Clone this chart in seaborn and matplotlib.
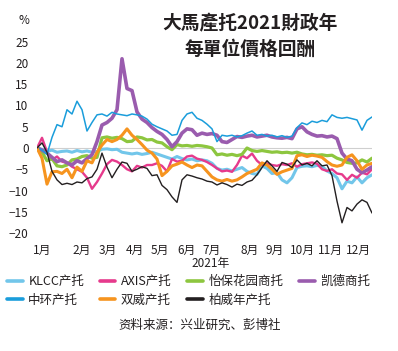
import numpy as np
import pandas as pd
import matplotlib
matplotlib.use("Agg")
import matplotlib.pyplot as plt
from matplotlib.lines import Line2D
import seaborn as sns

# ---- data (sample index along 2021, % return) ----
month_labels = ["1月", "2月", "3月", "4月", "5月", "6月", "7月", "8月", "9月", "10月", "11月", "12月"]
month_pos = [1.0, 9.0, 14.2, 19.6, 24.6, 29.8, 35.0, 42.6, 47.6, 53.0, 58.6, 64.2]
y_ticks = [25, 20, 15, 10, 5, 0, -5, -10, -15, -20]

series_names = ["KLCC产托", "AXIS产托", "怡保花园商托", "凯德商托", "中环产托", "双威产托", "柏威年产托"]

klcc = [0, -0.3, -0.8, -0.5, -1.0, -0.8, -0.7, -1.0, -0.6, -0.9, -0.7, -1.0, -0.8, -0.3, -0.2, -0.4, -0.3,
        -1.0, -1.2, -1.4, -1.2, -1.5, -1.3, -1.0, -1.4, -1.8, -2.2, -2.6, -2.0, -2.5, -2.8, -2.6, -3.0, -2.8,
        -3.0, -3.6, -4.8, -5.2, -5.0, -5.4, -5.0, -4.6, -5.5, -6.0, -6.2, -4.2, -4.8, -6.0, -5.8, -7.5, -8.2,
        -7.0, -4.6, -4.3, -4.2, -4.4, -4.1, -4.3, -5.4, -6.0, -7.0, -9.6, -7.8, -8.2, -6.8, -8.2, -7.0, -6.3]
axis = [0, 2.4, -0.9, -2.8, -2.0, -3.2, -3.5, -4.4, -5.0, -5.6, -7.0, -9.6, -8.0, -6.0, -3.8, -2.8, -3.2,
        -4.0, -5.0, -5.5, -4.2, -4.6, -4.0, -4.0, -3.6, -4.2, -5.5, -2.6, -3.2, -3.0, -2.0, -1.8, -2.5, -2.8,
        -3.3, -4.0, -4.8, -5.5, -5.3, -5.6, -4.0, -1.8, -2.4, -1.3, -3.0, -4.0, -3.6, -4.0, -4.2, -3.8, -4.0,
        -3.6, -4.4, -3.8, -3.6, -3.4, -3.7, -5.0, -5.4, -5.0, -6.0, -6.2, -7.5, -6.3, -7.0, -5.8, -6.2, -5.0]
ipoh = [0, -1.0, -3.0, -2.5, -4.2, -4.4, -4.0, -2.8, -2.6, -2.0, -1.8, -2.4, -2.2, 2.4, 2.6, 2.3, 2.5,
        2.2, 1.5, 1.6, 2.6, 2.4, 1.9, 2.0, 1.4, 1.2, 0.3, -0.4, 0.8, 0.5, 0.6, 0.4, 0.6, 0.5,
        0.3, 0.0, -1.6, -1.4, -1.7, -1.5, -1.8, -1.5, 0.0, -0.6, -0.8, -0.6, -0.8, -1.0, -0.9, -1.1, -1.0,
        -1.2, -1.0, -1.4, -1.6, -1.5, -1.7, -1.6, -1.8, -1.7, -2.4, -2.8, -3.4, -3.6, -3.5, -2.8, -3.3, -2.4]
capita = [0, -0.5, -1.2, -2.2, -3.2, -2.8, -3.5, -4.0, -3.0, -3.5, -2.5, -1.6, 1.5, 5.4, 6.0, 7.0, 9.0,
          21.0, 14.0, 13.5, 8.5, 6.8, 6.0, 4.8, 3.9, 3.2, 2.0, 0.3, 1.5, 3.5, 4.5, 4.3, 3.0, 3.5,
          3.2, 3.4, 3.0, 1.5, 1.3, 2.0, 2.7, 2.5, 2.8, 3.0, 2.6, 2.8, 3.0, 2.6, 2.4, 2.3, 2.5,
          2.2, 4.5, 5.0, 3.8, 3.2, 2.8, 2.9, 2.6, 2.8, 2.2, -1.2, -2.6, -3.0, -5.0, -5.8, -5.2, -4.4]
midvalley = [0, -0.5, -1.5, 2.5, 5.5, 5.0, 9.0, 8.0, 11.0, 9.0, 4.0, 6.0, 7.8, 8.0, 7.5, 8.4, 8.0,
             7.8, 7.6, 8.0, 7.8, 7.5, 6.8, 5.6, 5.0, 4.5, 4.0, 3.0, 3.2, 6.5, 8.0, 8.4, 7.0, 6.5,
             5.6, 4.5, 1.5, 3.0, 2.8, 3.0, 2.6, 2.9, 3.5, 4.0, 3.0, 3.2, 2.8, 3.0, 2.6, 2.9, 2.5,
             2.8, 4.8, 5.9, 5.5, 6.3, 6.0, 6.5, 6.2, 7.8, 7.2, 7.0, 7.2, 6.9, 6.6, 4.2, 6.5, 7.3]
sunway = [0, -2.4, -8.5, -5.6, -5.5, -6.0, -5.0, -7.0, -4.5, -5.5, -3.0, -3.5, -1.0, 0.7, 2.0, 1.5, 2.0,
          3.0, 4.5, 3.0, 2.0, 0.8, -0.5, -1.2, -2.6, -6.5, -5.5, -4.2, -3.8, -3.3, -4.0, -4.6, -4.0, -4.2,
          -5.5, -6.8, -7.5, -7.8, -7.4, -7.8, -7.5, -6.8, -6.0, -5.5, -5.0, -3.5, -4.0, -5.0, -6.2, -5.6, -5.2,
          -4.8, -1.8, -1.6, -2.0, -1.7, -1.9, -2.2, -3.2, -4.0, -4.3, -4.0, -2.2, -1.6, -3.0, -5.0, -4.0, -3.6]
pavilion = [0, 1.2, -1.0, -5.5, -7.5, -8.6, -8.3, -8.6, -8.0, -8.2, -7.2, -6.8, -5.0, -1.2, -4.5, -7.0, -5.0,
            -3.3, -3.6, -5.5, -5.0, -4.4, -4.8, -6.5, -6.3, -8.8, -9.8, -11.5, -12.8, -7.5, -6.3, -6.6, -7.0, -7.3,
            -7.8, -8.0, -8.7, -8.2, -8.6, -9.2, -8.5, -8.8, -8.0, -7.6, -6.3, -4.6, -3.0, -4.2, -5.5, -3.4, -3.8,
            -4.6, -2.8, -4.0, -3.6, -4.2, -3.0, -4.2, -4.0, -6.5, -12.5, -17.6, -14.0, -14.8, -13.2, -12.2, -12.8, -15.3]

colors = ["#72c6ea", "#e63a8c", "#8dc63f", "#9a5cae", "#1a9ddb", "#f6941f", "#231f20"]
widths = [2.2, 1.7, 2.3, 2.6, 1.1, 2.2, 1.0]

all_vals = [klcc, axis, ipoh, capita, midvalley, sunway, pavilion]
frames = []
for name, vals in zip(series_names, all_vals):
    frames.append(pd.DataFrame({"idx": np.arange(len(vals)), "value": vals, "series": name}))
df = pd.concat(frames, ignore_index=True)

# ---- style ----
sns.set_style("white")
plt.rcParams["font.family"] = ["Noto Sans CJK SC", "DejaVu Sans"]
plt.rcParams["axes.unicode_minus"] = True

fig = plt.figure(figsize=(3.98, 3.51), dpi=100)
ax = fig.add_axes([37 / 398, 1 - 237.25 / 351, 335 / 398, (237.25 - 37.5) / 351])

ax.axhline(0, color="#cfcfcf", lw=0.8, zorder=0)
sns.lineplot(data=df, x="idx", y="value", hue="series", hue_order=series_names,
             palette=dict(zip(series_names, colors)), legend=False, errorbar=None, ax=ax)
for ln, w in zip(ax.lines[1:], widths):
    ln.set_linewidth(w)
    ln.set_solid_joinstyle("round")

ax.set_xlim(0, 67)
ax.set_ylim(-21, 26)
ax.set_xticks(month_pos)
ax.set_xticklabels(month_labels)
ax.set_yticks(y_ticks)
ax.set_yticklabels([("\u2212" + str(-v)) if v < 0 else str(v) for v in y_ticks])
ax.tick_params(axis="both", length=0, labelsize=8.5, colors="#231f20")
ax.tick_params(axis="y", pad=6)
ax.tick_params(axis="x", pad=5)
ax.set_xlabel("")
ax.set_ylabel("")
for s in ax.spines.values():
    s.set_visible(False)

# ---- texts ----
fig.text(24 / 398, 1 - 21 / 351, "%", ha="center", va="center", fontsize=8.5, color="#231f20")
fig.text(250 / 398, 1 - 24 / 351, "大馬產托2021財政年", ha="center", va="center", fontsize=13.5,
         fontweight="bold", family=["Noto Sans CJK TC", "DejaVu Sans"], color="#231f20")
fig.text(250 / 398, 1 - 49 / 351, "每單位價格回酬", ha="center", va="center", fontsize=13.5,
         fontweight="bold", family=["Noto Sans CJK TC", "DejaVu Sans"], color="#231f20")
fig.text(211 / 398, 1 - 263 / 351, "2021年", ha="center", va="center", fontsize=8.5, color="#231f20")
fig.text(200 / 398, 1 - 325 / 351, "资料来源：兴业研究、彭博社", ha="center", va="center", fontsize=9,
         color="#231f20")

# legend laid out row by row (matplotlib fills column-wise)
order = [0, 4, 1, 5, 2, 6, 3]
handles = [Line2D([0], [0], color=colors[i], lw=2.6) for i in order]
labels = [series_names[i] for i in order]
fig.legend(handles, labels, loc="upper left", bbox_to_anchor=(7 / 398, 1 - 275 / 351),
           ncol=4, frameon=False, fontsize=9, handlelength=1.25, handletextpad=0.45,
           columnspacing=1.25, labelspacing=0.45, borderpad=0, borderaxespad=0,
           labelcolor="#231f20")

fig.savefig("out.png", dpi=100)
